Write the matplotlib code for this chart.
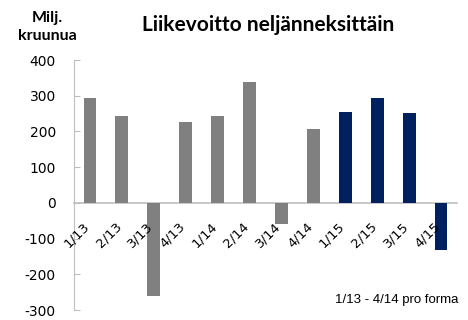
import matplotlib
matplotlib.use("Agg")
from matplotlib import pyplot as plt
import numpy as np

quarters = ["1/13", "2/13", "3/13", "4/13", "1/14", "2/14", "3/14", "4/14",
            "1/15", "2/15", "3/15", "4/15"]
operating_profit = [293, 244, -262, 227, 242, 339, -60, 207, 254, 293, 251, -133]
is_pro_forma = [True] * 8 + [False] * 4
y_ticks = [-300, -200, -100, 0, 100, 200, 300, 400]

gray = "#808080"
navy = "#002060"
colors = [gray if p else navy for p in is_pro_forma]

fig = plt.figure(figsize=(4.68, 3.2), dpi=100)
ax = fig.add_axes([74 / 468, 1 - 310 / 320, (457 - 74) / 468, 250 / 320])

x = np.arange(len(quarters))
ax.bar(x, operating_profit, 0.4, color=colors, zorder=2)

ax.set_xlim(-0.5, len(quarters) - 0.5)
ax.set_ylim(-300, 400)
ax.set_yticks(y_ticks)
ax.set_yticklabels([str(v) for v in y_ticks], fontsize=10, family="DejaVu Sans")
ax.tick_params(axis="y", direction="in", length=4, color="#bfbfbf", pad=13)

ax.spines["top"].set_visible(False)
ax.spines["right"].set_visible(False)
ax.spines["left"].set_color("#bfbfbf")
ax.spines["bottom"].set_position(("data", 0))
ax.spines["bottom"].set_color("#bfbfbf")
ax.spines["bottom"].set_linewidth(1.2)
ax.spines["bottom"].set_zorder(1)

ax.set_xticks(x + 0.06)
ax.set_xticklabels(quarters, rotation=45, ha="right", va="top",
                   fontsize=9.5, family="DejaVu Sans")
ax.tick_params(axis="x", length=0, pad=12)
for lbl in ax.get_xticklabels():
    lbl.set_zorder(5)
ax.set_axisbelow(False)

fig.text(268 / 468, 1 - 25 / 320, "Liikevoitto neljänneksittäin",
         ha="center", va="center", fontsize=15, weight="bold", family="Lato")
fig.text(47 / 468, 1 - 27 / 320, "Milj.\nkruunua", ha="center", va="center",
         fontsize=11.5, weight="bold", family="Lato", linespacing=1.4)
fig.text(458 / 468, 1 - 300 / 320, "1/13 - 4/14 pro forma", ha="right",
         va="center", fontsize=9.5, family="Liberation Sans")

fig.savefig("out.png", dpi=100)
